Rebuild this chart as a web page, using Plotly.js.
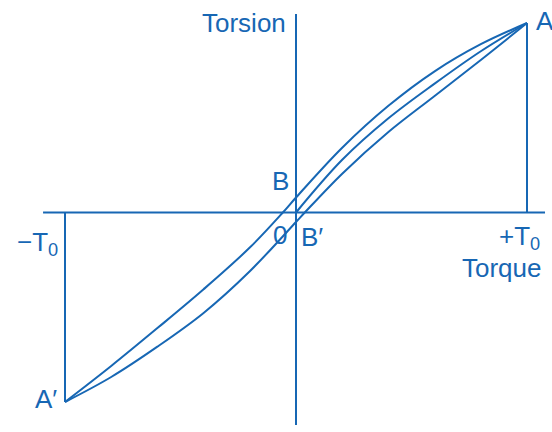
<!DOCTYPE html>
<html>
<head>
<meta charset="utf-8">
<script src="https://cdn.plot.ly/plotly-3.0.1.min.js"></script>
<style>
  html, body { margin: 0; padding: 0; background: #fff; }
  #chart { width: 552px; height: 432px; }
</style>
</head>
<body>
<div id="chart"></div>
<script>
// torque in units of T0, torsion normalised to the value at A
const upperTorque = [1.0, 0.8, 0.6, 0.4, 0.2, 0, -0.057, -0.2, -0.4, -0.6, -0.8, -1.0];
const upperTorsion = [1.0, 0.888, 0.745, 0.563, 0.342, 0.079, 0, -0.185, -0.405, -0.61, -0.81, -1.0];

const lowerTorque = [-1.0, -0.8, -0.6, -0.4, -0.2, 0, 0.038, 0.2, 0.4, 0.6, 0.8, 1.0];
const lowerTorsion = [-1.0, -0.868, -0.708, -0.53, -0.31, -0.05, 0, 0.205, 0.425, 0.615, 0.805, 1.0];

const initialTorque = [0, 0.2, 0.4, 0.6, 0.8, 1.0];
const initialTorsion = [0, 0.278, 0.497, 0.68, 0.851, 1.0];

const blue = "#1767b4";
const font = "Liberation Sans, Arial, sans-serif";

// axis extents
const xAxisEnds = [-1.095, 1.078];
const yAxisEnds = [-1.121, 1.047];

function curve(x, y) {
  return {
    x,
    y,
    type: "scatter",
    mode: "lines",
    line: { color: blue, width: 2, shape: "spline", smoothing: 1 },
    hoverinfo: "skip",
  };
}

const data = [
  curve(upperTorque, upperTorsion),
  curve(lowerTorque, lowerTorsion),
  curve(initialTorque, initialTorsion),
];

const tipA = { x: upperTorque[0], y: upperTorsion[0] };
const tipA2 = { x: lowerTorque[0], y: lowerTorsion[0] };
const pointB = { x: upperTorque[5], y: upperTorsion[5] };

function label(text, x, y, xanchor, yanchor, xshift, yshift) {
  return {
    text,
    x,
    y,
    xanchor,
    yanchor,
    xshift,
    yshift,
    showarrow: false,
    font: { family: font, size: 26, color: blue },
  };
}

const layout = {
  width: 552,
  height: 432,
  margin: { l: 0, r: 0, t: 0, b: 0 },
  showlegend: false,
  paper_bgcolor: "#fff",
  plot_bgcolor: "#fff",

  xaxis: { range: [-1.2814, 1.1082], visible: false, fixedrange: true },
  yaxis: { range: [-1.1583, 1.1214], visible: false, fixedrange: true },

  shapes: [
    // axes
    { type: "line", x0: xAxisEnds[0], x1: xAxisEnds[1], y0: 0, y1: 0, line: { color: blue, width: 2 } },
    { type: "line", x0: 0, x1: 0, y0: yAxisEnds[0], y1: yAxisEnds[1], line: { color: blue, width: 2 } },
    // drop lines from the tips
    { type: "line", x0: tipA.x, x1: tipA.x, y0: 0, y1: tipA.y, line: { color: blue, width: 2 } },
    { type: "line", x0: tipA2.x, x1: tipA2.x, y0: 0, y1: tipA2.y, line: { color: blue, width: 2 } },
  ],

  annotations: [
    label("Torsion", 0, tipA.y, "right", "middle", -8, 0),
    label("A", tipA.x, tipA.y, "left", "middle", 7, 2),
    label("A\u2032", tipA2.x, tipA2.y, "right", "middle", -6, 3),
    label("B", pointB.x, pointB.y, "right", "bottom", -5, 0),
    label("0", 0, 0, "right", "top", -7, -5),
    label("B\u2032", 0, 0, "left", "top", 3, -7),
    label("\u2212T<sub>0</sub>", tipA2.x, 0, "right", "top", -5, -12),
    label("+T<sub>0</sub>", tipA.x, 0, "center", "top", -8, -6),
    label("Torque", tipA.x, 0, "right", "top", 17, -38),
  ],
};

const config = { responsive: false, displayModeBar: false, staticPlot: true };

Plotly.newPlot("chart", data, layout, config);
</script>
</body>
</html>
